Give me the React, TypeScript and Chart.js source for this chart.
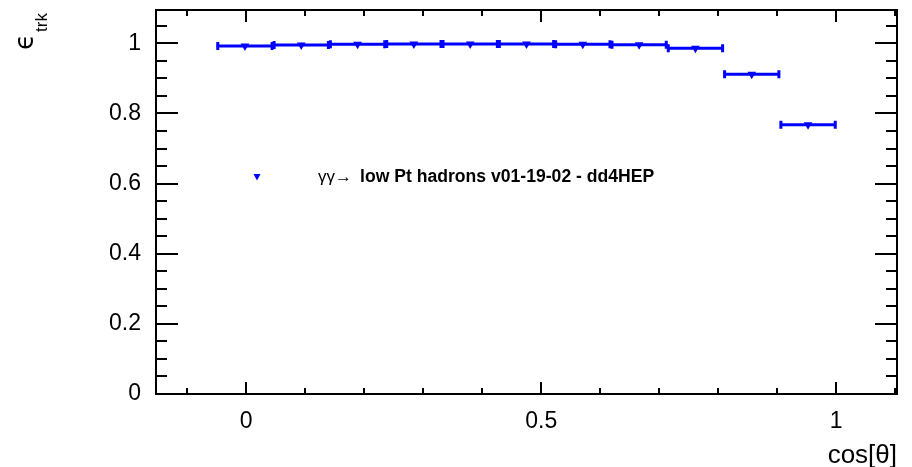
import React, { useEffect, useRef } from "react";
import { Chart, registerables } from "chart.js";

Chart.register(...registerables);

// ---- data ----
const binLowEdges = [-0.05, 0.0455, 0.1409, 0.2364, 0.3318, 0.4273, 0.5227, 0.6182, 0.7136, 0.8091, 0.9045];
const binHighEdges = [0.0455, 0.1409, 0.2364, 0.3318, 0.4273, 0.5227, 0.6182, 0.7136, 0.8091, 0.9045, 1.0];
const efficiency = [0.992, 0.995, 0.997, 0.998, 0.998, 0.998, 0.997, 0.996, 0.986, 0.912, 0.768];

const yTickValues = [0, 0.2, 0.4, 0.6, 0.8, 1];
const yTickLabels = ["0", "0.2", "0.4", "0.6", "0.8", "1"];
const xTickValues = [0, 0.5, 1];
const xTickLabels = ["0", "0.5", "1"];

const seriesPrefix = "γγ→";
const seriesLabel = "low Pt hadrons v01-19-02 - dd4HEP";
const xTitle = "cos[θ]";
const yTitleMain = "ϵ";
const yTitleSub = "trk";

const X_MIN = -0.153;
const X_MAX = 1.103;
const Y_MIN = 0;
const Y_MAX = 1.095;

const BLUE = "#0000ff";
const FONT = "'Liberation Sans', Arial, Helvetica, sans-serif";

const framePlugin = {
  id: "rootFrame",
  beforeDatasetsDraw(chart: any) {
    const { ctx, scales } = chart;
    const xs = scales.x;
    const ys = scales.y;
    ctx.save();
    ctx.strokeStyle = BLUE;
    ctx.lineWidth = 3;
    ctx.lineCap = "butt";
    for (let i = 0; i < efficiency.length; i++) {
      const py = ys.getPixelForValue(efficiency[i]);
      const x1 = xs.getPixelForValue(binLowEdges[i]);
      const x2 = xs.getPixelForValue(binHighEdges[i]);
      ctx.beginPath();
      ctx.moveTo(x1, py);
      ctx.lineTo(x2, py);
      ctx.stroke();
      ctx.beginPath();
      ctx.moveTo(x1 + 1, py - 4);
      ctx.lineTo(x1 + 1, py + 4);
      ctx.moveTo(x2 - 1, py - 4);
      ctx.lineTo(x2 - 1, py + 4);
      ctx.stroke();
    }
    ctx.restore();
  },
  afterDraw(chart: any) {
    const { ctx, chartArea, scales } = chart;
    const { left, right, top, bottom } = chartArea;
    const xs = scales.x;
    const ys = scales.y;
    ctx.save();
    ctx.strokeStyle = "#000";
    ctx.lineWidth = 2;
    ctx.strokeRect(left, top, right - left, bottom - top);

    // y ticks: major 0.2, minor 0.05
    for (let k = 0; k * 0.05 <= Y_MAX + 1e-9; k++) {
      const v = k * 0.05;
      const py = Math.round(ys.getPixelForValue(v));
      const major = k % 4 === 0;
      const len = major ? 22 : 11;
      ctx.beginPath();
      ctx.moveTo(left, py);
      ctx.lineTo(left + len, py);
      ctx.moveTo(right, py);
      ctx.lineTo(right - len, py);
      ctx.stroke();
    }
    // x ticks: major 0.5, minor 0.1
    for (let k = -1; k * 0.1 <= X_MAX + 1e-9; k++) {
      const v = k * 0.1;
      if (v < X_MIN) continue;
      const px = Math.round(xs.getPixelForValue(v));
      const major = ((k % 5) + 5) % 5 === 0;
      const len = major ? 12 : 6;
      ctx.beginPath();
      ctx.moveTo(px, bottom);
      ctx.lineTo(px, bottom - len);
      ctx.moveTo(px, top);
      ctx.lineTo(px, top + len);
      ctx.stroke();
    }

    // legend
    ctx.fillStyle = BLUE;
    const mx = 257, my = 177;
    ctx.beginPath();
    ctx.moveTo(mx - 3.5, my - 3);
    ctx.lineTo(mx + 3.5, my - 3);
    ctx.lineTo(mx, my + 3.5);
    ctx.closePath();
    ctx.fill();

    ctx.fillStyle = "#000";
    ctx.textBaseline = "alphabetic";
    ctx.textAlign = "left";
    ctx.font = `17px ${FONT}`;
    ctx.fillText(seriesPrefix, 318, 182);
    ctx.font = `bold 17.6px ${FONT}`;
    ctx.fillText(seriesLabel, 360, 182);

    // x title
    ctx.font = `26px ${FONT}`;
    ctx.textAlign = "right";
    ctx.fillText(xTitle, 897, 463);

    // y title (rotated)
    ctx.save();
    ctx.translate(33, 50);
    ctx.rotate(-Math.PI / 2);
    ctx.textAlign = "left";
    ctx.font = `26px 'DejaVu Sans', ${FONT}`;
    ctx.fillText(yTitleMain, 0, 0);
    ctx.font = `17px ${FONT}`;
    ctx.fillText(yTitleSub, 18, 14);
    ctx.restore();

    ctx.restore();
  },
};

export default function App() {
  const canvasRef = useRef<HTMLCanvasElement | null>(null);

  useEffect(() => {
    const canvas = canvasRef.current;
    if (!canvas) return;
    const points = efficiency.map((v, i) => ({
      x: (binLowEdges[i] + binHighEdges[i]) / 2,
      y: v,
    }));
    const chart = new Chart(canvas, {
      type: "scatter",
      data: {
        datasets: [
          {
            label: seriesLabel,
            data: points,
            pointStyle: "triangle",
            rotation: 180,
            radius: 5,
            backgroundColor: BLUE,
            borderColor: BLUE,
            borderWidth: 0,
            showLine: false,
          } as any,
        ],
      },
      options: {
        animation: false,
        responsive: false,
        maintainAspectRatio: false,
        events: [],
        layout: { padding: { top: 10, right: 15, left: 0, bottom: 0 } },
        plugins: {
          legend: { display: false },
          tooltip: { enabled: false },
          title: { display: false },
        },
        scales: {
          x: {
            type: "linear",
            min: X_MIN,
            max: X_MAX,
            grid: { display: false, drawTicks: false },
            border: { display: false },
            afterBuildTicks: (scale: any) => {
              scale.ticks = xTickValues.map((v) => ({ value: v }));
            },
            afterFit: (scale: any) => {
              scale.height = 73;
              scale.paddingLeft = 0;
              scale.paddingRight = 0;
              scale.paddingTop = 0;
              scale.paddingBottom = 0;
            },
            ticks: {
              autoSkip: false,
              maxRotation: 0,
              padding: 14,
              color: "#000",
              font: { family: FONT, size: 23 },
              callback: (value: any) => {
                const idx = xTickValues.findIndex((t) => Math.abs(t - Number(value)) < 1e-9);
                return idx >= 0 ? xTickLabels[idx] : "";
              },
            },
          },
          y: {
            type: "linear",
            min: Y_MIN,
            max: Y_MAX,
            grid: { display: false, drawTicks: false },
            border: { display: false },
            afterBuildTicks: (scale: any) => {
              scale.ticks = yTickValues.map((v) => ({ value: v }));
            },
            afterFit: (scale: any) => {
              scale.width = 156;
              scale.paddingLeft = 0;
              scale.paddingRight = 0;
              scale.paddingTop = 0;
              scale.paddingBottom = 0;
            },
            ticks: {
              autoSkip: false,
              padding: 15,
              color: "#000",
              font: { family: FONT, size: 23 },
              callback: (value: any) => {
                const idx = yTickValues.findIndex((t) => Math.abs(t - Number(value)) < 1e-9);
                return idx >= 0 ? yTickLabels[idx] : "";
              },
            },
          },
        },
      },
      plugins: [framePlugin],
    });
    return () => chart.destroy();
  }, []);

  return (
    <div style={{ position: "fixed", left: 0, top: 0, width: 912, height: 467, background: "#fff" }}>
      <canvas ref={canvasRef} width={912} height={467} style={{ width: 912, height: 467 }} />
    </div>
  );
}
